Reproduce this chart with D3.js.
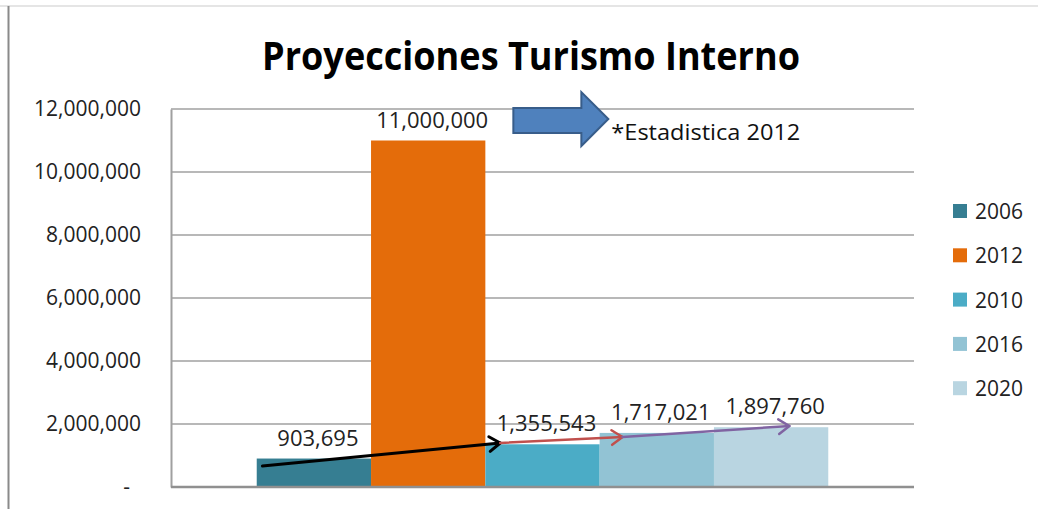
<!DOCTYPE html>
<html>
<head>
<meta charset="utf-8">
<script src="https://cdn.jsdelivr.net/npm/d3@7"></script>
<style>
  body { margin: 0; background: #fff; }
  text { font-family: "Open Sans", "Noto Sans", sans-serif; }
</style>
</head>
<body>
<div id="chart"></div>
<script>
const SERIES = ["2006", "2012", "2010", "2016", "2020"];
const VALUES = [903695, 11000000, 1355543, 1717021, 1897760];
const COLORS = ["#367e92", "#e46c0a", "#4bacc6", "#92c3d4", "#b9d5e1"];
const TICKS = [0, 2000000, 4000000, 6000000, 8000000, 10000000, 12000000];
const TITLE = "Proyecciones Turismo Interno";
const NOTE = "*Estadistica 2012";

// flechas de tendencia : [serie, fraccion dentro de la barra, valor]
const TREND_FROM = [["2006", 0.05, 667000], ["2010", 0.13, 1397000], ["2016", 0.2, 1587000]];
const TREND_TO = [["2010", 0.13, 1397000], ["2016", 0.2, 1587000], ["2020", 0.66, 1937000]];
const TREND_COLORS = ["#000000", "#c0504d", "#8064a2"];

const width = 1038, height = 509;
const plot = { left: 171, right: 914, top: 109, bottom: 487 };

const svg = d3.select("#chart").append("svg")
    .attr("width", width)
    .attr("height", height);

const x = d3.scaleBand()
    .domain(SERIES)
    .range([plot.left, plot.right])
    .paddingInner(0)
    .paddingOuter(0.75);

const y = d3.scaleLinear()
    .domain([0, 12000000])
    .range([plot.bottom, plot.top]);

// cadre
svg.append("line")
    .attr("x1", 0).attr("x2", width)
    .attr("y1", 6).attr("y2", 6)
    .attr("stroke", "#dcdcdc").attr("stroke-width", 1.5);
svg.append("line")
    .attr("x1", 8.5).attr("x2", 8.5)
    .attr("y1", 6).attr("y2", height)
    .attr("stroke", "#8a8a8a").attr("stroke-width", 2);

svg.append("text")
    .attr("x", 531)
    .attr("y", 70)
    .attr("text-anchor", "middle")
    .attr("font-size", 39)
    .attr("font-weight", 700)
    .attr("fill", "#000")
    .attr("textLength", 538)
    .attr("lengthAdjust", "spacingAndGlyphs")
    .text(TITLE);

// grille
svg.append("g")
    .selectAll("line")
    .data(TICKS.filter(t => t > 0))
    .join("line")
    .attr("x1", plot.left).attr("x2", plot.right)
    .attr("y1", d => y(d)).attr("y2", d => y(d))
    .attr("stroke", "#a0a0a0").attr("stroke-width", 1.5);

const yAxis = d3.axisLeft(y)
    .tickValues(TICKS)
    .tickSize(0)
    .tickPadding(30)
    .tickFormat(d => d === 0 ? "-" : d3.format(",")(d));

svg.append("g")
    .attr("transform", `translate(${plot.left},0)`)
    .call(yAxis)
    .call(g => g.select(".domain").attr("stroke", "#a0a0a0").attr("stroke-width", 2))
    .call(g => g.selectAll("text")
        .attr("font-size", 21)
        .attr("fill", "#222")
        .attr("font-family", "Open Sans")
        .attr("dx", d => d === 0 ? -11 : 0));

// barres
svg.append("g")
    .selectAll("rect")
    .data(VALUES)
    .join("rect")
    .attr("x", (d, i) => x(SERIES[i]))
    .attr("y", d => y(d))
    .attr("width", x.bandwidth())
    .attr("height", d => y(0) - y(d))
    .attr("fill", (d, i) => COLORS[i]);

svg.append("line")
    .attr("x1", plot.left).attr("x2", plot.right)
    .attr("y1", y(0)).attr("y2", y(0))
    .attr("stroke", "#909090").attr("stroke-width", 2.5);

svg.append("g")
    .selectAll("text")
    .data(VALUES)
    .join("text")
    .attr("x", (d, i) => x(SERIES[i]) + x.bandwidth() / 2 + 4)
    .attr("y", d => y(d) - 22)
    .attr("dominant-baseline", "central")
    .attr("text-anchor", "middle")
    .attr("font-size", 22)
    .attr("fill", "#222")
    .text(d => d3.format(",")(d));

// flechas
function trendPoint(p) {
    return [x(p[0]) + x.bandwidth() * p[1], y(p[2])];
}

for (let i = 0; i < TREND_FROM.length; i++) {
    let a = trendPoint(TREND_FROM[i]);
    let b = trendPoint(TREND_TO[i]);
    let ang = Math.atan2(b[1] - a[1], b[0] - a[0]);
    let len = 13, spread = 0.6;
    let c = TREND_COLORS[i];
    svg.append("line")
        .attr("x1", a[0]).attr("y1", a[1])
        .attr("x2", b[0]).attr("y2", b[1])
        .attr("stroke", c)
        .attr("stroke-width", i == 0 ? 3 : 2.5)
        .attr("stroke-linecap", "round");
    svg.append("path")
        .attr("d", d3.line()([
            [b[0] - len * Math.cos(ang - spread), b[1] - len * Math.sin(ang - spread)],
            b,
            [b[0] - len * Math.cos(ang + spread), b[1] - len * Math.sin(ang + spread)]
        ]))
        .attr("fill", "none")
        .attr("stroke", c)
        .attr("stroke-width", i == 0 ? 3 : 2.5)
        .attr("stroke-linecap", "round")
        .attr("stroke-linejoin", "round");
}

// flecha azul + nota
let bx = x("2010") + 28, by = y(11680000);
svg.append("path")
    .attr("d", d3.line()([
        [bx, by - 11], [bx + 68, by - 11], [bx + 68, by - 27],
        [bx + 95, by], [bx + 68, by + 27], [bx + 68, by + 14], [bx, by + 14]
    ]) + "Z")
    .attr("fill", "#4f81bd")
    .attr("stroke", "#385d8a")
    .attr("stroke-width", 2);

svg.append("text")
    .attr("x", bx + 98)
    .attr("y", by + 12)
    .attr("dominant-baseline", "central")
    .attr("font-size", 22)
    .attr("fill", "#111")
    .attr("textLength", 189)
    .attr("lengthAdjust", "spacingAndGlyphs")
    .text(NOTE);

// leyenda
const legend = svg.append("g")
    .selectAll("g")
    .data(SERIES)
    .join("g")
    .attr("transform", (d, i) => `translate(953,${211 + i * 44.3})`);

legend.append("rect")
    .attr("x", 0).attr("y", -7)
    .attr("width", 14).attr("height", 14)
    .attr("fill", (d, i) => COLORS[i]);

legend.append("text")
    .attr("x", 22)
    .attr("dominant-baseline", "central")
    .attr("font-size", 21)
    .attr("fill", "#222")
    .text(d => d);
</script>
</body>
</html>
